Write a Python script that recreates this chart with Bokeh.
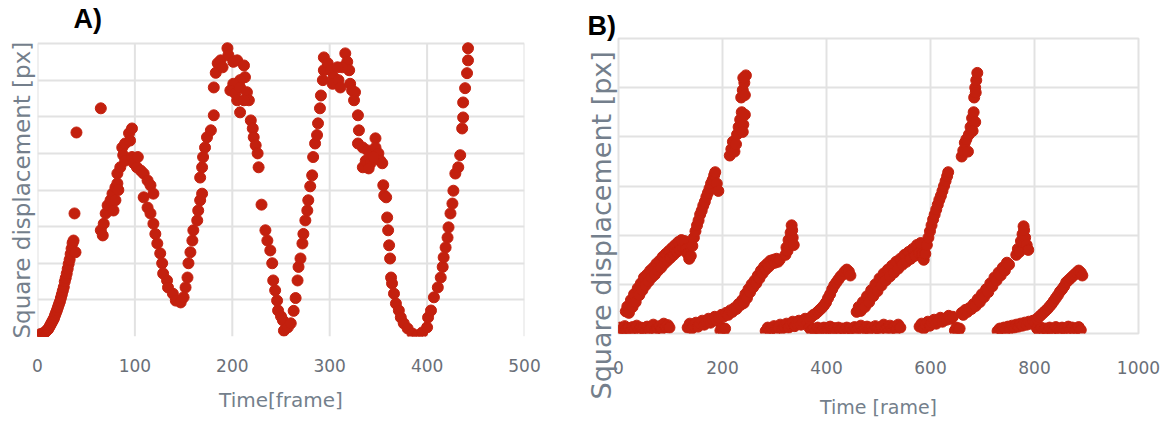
from bokeh.plotting import figure
from bokeh.models import Title, FixedTicker, Label
from bokeh.embed import file_html
from bokeh.resources import INLINE

# ---------------- Panel A data: frame, square displacement (grid units) ----------------
a_frame = [0, 1, 2, 3, 4, 5, 6, 7, 8, 9, 10, 11, 12, 13, 14, 15, 16, 17, 18, 19, 20,
           21, 22, 23, 24, 25, 26, 27, 28, 29, 30, 31, 32, 33, 34, 35, 36, 37, 38, 39, 40,
           65,
           65, 67, 68, 70, 72, 75, 77, 78, 80, 80, 82, 82, 83, 85, 87, 88, 90, 90, 94, 95, 97,
           97, 99, 102, 103, 106, 109, 109, 113, 113, 116, 116, 119, 119, 121, 123, 126, 128,
           129, 133, 134, 139, 142, 147, 150, 152, 154, 155, 157, 159, 160, 164, 165, 167, 169,
           167, 169, 170, 172, 174, 178, 181, 181, 183, 185, 188, 190, 195, 196,
           201, 205, 212, 213, 208, 201, 198, 203, 208, 215, 217, 208, 205, 212,
           219, 221, 222, 224, 226, 227,
           230, 234, 236, 239, 241, 242, 244, 246, 247, 250, 252, 253, 257, 260, 263, 265,
           267, 268, 270, 272, 273, 275, 277, 278, 280, 282, 283, 285, 287, 288, 290, 291,
           293, 294, 294,
           298, 301, 304, 303, 309, 311, 316, 318, 320, 313, 308, 321, 323, 326, 325,
           329, 330, 329, 334, 339, 334, 337, 342, 347, 347, 350, 352, 354, 345, 340,
           355, 356, 358, 359, 360, 361, 362, 363, 364, 366, 368, 371, 373, 376, 380, 385,
           390, 395, 400, 401, 404, 407, 411, 414, 416, 417, 419, 421, 422, 424, 426, 427,
           429, 432, 434, 436, 437, 437, 439, 441, 442, 442]
a_disp = [0.02, 0.05, 0.0, 0.06, 0.03, 0.08, 0.05, 0.1, 0.12, 0.15, 0.18, 0.2, 0.25, 0.3, 0.35, 0.4, 0.45, 0.5, 0.58, 0.65, 0.72,
          0.8, 0.88, 0.95, 1.05, 1.15, 1.25, 1.35, 1.5, 1.6, 1.72, 1.85, 1.98, 2.1, 2.25, 2.4, 2.55, 2.62, 3.36, 2.3, 5.57,
          6.23,
          2.9, 2.76, 3.08, 3.36, 3.58, 3.72, 3.9, 3.44, 3.72, 4.07, 4.18, 4.45, 4.0, 4.62, 5.16, 4.95, 5.27, 4.8, 5.55, 5.35, 5.68,
          4.9, 4.73, 4.62, 4.9, 4.53, 4.45, 3.8, 4.26, 3.52, 4.13, 3.36, 3.9, 3.08, 2.8, 2.54, 2.27, 2.0,
          1.72, 1.53, 1.34, 1.17, 0.98, 0.93, 1.07, 1.34, 1.61, 2.0, 2.3, 2.62, 2.9, 3.17, 3.44, 3.72, 3.9,
          4.34, 4.62, 4.9, 5.16, 5.44, 5.63, 6.04, 6.8, 7.2, 7.46, 7.54, 7.35, 7.87, 7.68,
          7.5, 7.54, 7.4, 7.08, 7.0, 6.9, 6.72, 6.64, 6.8, 6.67, 6.45, 6.12, 6.45, 6.45,
          5.9, 5.68, 5.44, 5.22, 5.0, 4.62,
          3.6, 2.9, 2.62, 2.35, 2.0, 1.53, 1.26, 0.98, 0.71, 0.55, 0.44, 0.16, 0.25, 0.36, 0.7, 1.05,
          1.53, 1.9, 2.13, 2.54, 2.8, 3.17, 3.44, 3.72, 4.1, 4.4, 4.9, 5.27, 5.5, 5.82, 6.23, 6.58,
          7.0, 7.27, 7.62,
          7.46, 7.27, 7.08, 6.9, 7.0, 6.8, 7.73, 7.5, 7.27, 7.35, 7.35, 6.9, 6.72, 6.67, 6.45,
          6.04, 5.63, 5.27, 5.16, 5.08, 4.62, 4.8, 4.73, 5.41, 5.16, 5.0, 4.8, 4.73, 4.9, 4.59,
          4.13, 3.85, 3.8, 3.25, 2.9, 2.49, 2.13, 1.61, 1.45, 1.17, 0.9, 0.71, 0.52, 0.36, 0.22, 0.08,
          0.03, 0.11, 0.25, 0.52, 0.71, 1.07, 1.34, 1.61, 1.9, 2.16, 2.43, 2.7, 2.98, 3.36, 3.63, 3.98,
          4.45, 4.62, 4.95, 5.68, 5.98, 6.39, 6.78, 7.19, 7.54, 7.87]

a_xticks = [0, 100, 200, 300, 400, 500]
a_yticks = [0, 1, 2, 3, 4, 5, 6, 7, 8]

# ---------------- Panel B data (several tracks) ----------------
b_flat1_frame = [0, 3, 6, 9, 12, 15, 19, 23, 27, 31, 35, 39, 43, 47, 51, 55, 59, 63, 67, 71, 75, 79, 83, 87, 91, 95, 98]
b_flat1_disp = [0.06, 0.12, 0.04, 0.1, 0.15, 0.07, 0.11, 0.05, 0.13, 0.09, 0.16, 0.06, 0.12, 0.1, 0.04, 0.14, 0.08, 0.12,
                0.18, 0.07, 0.11, 0.15, 0.09, 0.2, 0.13, 0.17, 0.12]

b_rise1_frame = [14, 17, 20, 24, 27, 30, 33, 37, 40, 43, 46, 49, 52, 55, 58, 61, 64, 67, 70, 73, 76, 79, 82, 85, 88,
                 91, 94, 97, 100, 103, 106, 109, 112, 115, 118, 121, 124, 127, 130, 133, 136, 139, 142, 145, 148,
                 151, 154, 157, 160, 163, 166, 169, 172, 175, 178, 181, 184, 186, 189, 192,
                 214, 217, 220, 223, 226, 228, 231, 234, 237, 240, 243, 239, 236, 239, 242, 245, 243, 240]
b_rise1_disp = [0.45, 0.55, 0.42, 0.68, 0.54, 0.8, 0.64, 0.92, 0.78, 1.02, 0.88, 1.14, 0.98, 1.2, 1.06, 1.28, 1.14, 1.34,
                1.2, 1.42, 1.28, 1.48, 1.34, 1.56, 1.42, 1.62, 1.48, 1.68, 1.54, 1.74, 1.6, 1.8, 1.66, 1.86, 1.7,
                1.9, 1.74, 1.88, 1.72, 1.62, 1.52, 1.58, 1.78, 1.95, 2.08, 2.2, 2.3, 2.42, 2.5, 2.6, 2.68, 2.78,
                2.86, 2.95, 3.05, 3.12, 3.22, 3.28, 3.05, 2.9,
                3.62, 3.75, 3.9, 3.7, 3.85, 4.05, 4.2, 4.35, 4.5, 4.25, 4.45, 4.1, 4.8, 4.95, 5.1, 5.25, 4.85, 5.2]

b_rise2_frame = [133, 137, 141, 145, 149, 153, 157, 161, 165, 169, 173, 177, 181, 185, 189, 193, 196, 199, 202, 205,
                 198, 203, 207, 211, 215, 219, 223, 227, 231, 235, 238, 241, 244, 247, 250, 253, 256, 259, 262,
                 265, 268, 271, 274, 277, 280, 283, 286, 289, 292, 295, 298, 301, 304, 307, 310,
                 321, 323, 325, 327, 329, 331, 333, 335, 337, 334]
b_rise2_disp = [0.12, 0.2, 0.1, 0.16, 0.22, 0.14, 0.2, 0.26, 0.18, 0.24, 0.3, 0.22, 0.28, 0.34, 0.26, 0.32, 0.06, 0.12,
                0.04, 0.1, 0.38, 0.35, 0.42, 0.38, 0.47, 0.44, 0.52, 0.5, 0.6, 0.58, 0.68, 0.62, 0.8, 0.72, 0.9,
                0.84, 1.0, 0.94, 1.08, 1.02, 1.18, 1.12, 1.28, 1.22, 1.36, 1.3, 1.42, 1.36, 1.48, 1.42, 1.5, 1.44,
                1.52, 1.46, 1.5,
                1.6, 1.75, 1.68, 1.9, 1.82, 2.05, 2.2, 1.95, 1.8, 2.1]

b_rise3_frame = [283, 287, 291, 295, 299, 303, 307, 311, 315, 319, 323, 327, 331, 335, 339, 343, 347, 351, 355, 359,
                 363, 367, 371, 375, 379, 383, 387, 391, 395, 399, 403, 407, 411, 415, 419, 423, 427, 431, 435,
                 439, 443,
                 367, 371, 375, 379, 383, 387, 391, 395, 399, 403, 407, 411, 415, 419, 423, 427, 431, 435, 439,
                 443, 446]
b_rise3_disp = [0.05, 0.12, 0.06, 0.1, 0.15, 0.08, 0.12, 0.18, 0.1, 0.15, 0.2, 0.12, 0.18, 0.24, 0.15, 0.2, 0.26, 0.18,
                0.24, 0.3, 0.22, 0.12, 0.06, 0.1, 0.04, 0.12, 0.08, 0.05, 0.12, 0.06, 0.1, 0.14, 0.07, 0.11, 0.05,
                0.12, 0.08, 0.1, 0.06, 0.12, 0.08,
                0.3, 0.34, 0.38, 0.4, 0.44, 0.48, 0.52, 0.57, 0.63, 0.72, 0.8, 0.9, 0.98, 1.04, 1.1, 1.16, 1.2,
                1.26, 1.3, 1.26, 1.18]

b_flat4_frame = [446, 450, 454, 458, 462, 466, 470, 474, 478, 482, 486, 490, 494, 498, 502, 506, 510, 514, 518, 522,
                 526, 530, 534, 538, 542]
b_flat4_disp = [0.1, 0.05, 0.13, 0.08, 0.12, 0.16, 0.06, 0.1, 0.14, 0.08, 0.12, 0.05, 0.15, 0.1, 0.07, 0.13, 0.18, 0.09,
                0.12, 0.16, 0.1, 0.14, 0.08, 0.18, 0.12]

b_rise4_frame = [458, 462, 466, 470, 474, 478, 482, 486, 490, 494, 498, 502, 506, 510, 514, 518, 522, 526, 530, 534,
                 538, 542, 546, 550, 554, 558, 562, 566, 570, 574, 578, 581, 584, 587, 590, 593, 596, 599, 602,
                 605, 608, 611, 614, 617, 620, 623, 626, 629, 632, 634,
                 660, 663, 666, 669, 672, 674, 677, 680, 683, 686, 681, 684, 686, 688, 690, 687]
b_rise4_disp = [0.44, 0.54, 0.46, 0.64, 0.54, 0.76, 0.64, 0.88, 0.76, 1.0, 0.86, 1.12, 0.98, 1.22, 1.08, 1.3, 1.16, 1.38,
                1.24, 1.46, 1.32, 1.52, 1.4, 1.6, 1.46, 1.66, 1.52, 1.72, 1.58, 1.8, 1.64, 1.84, 1.62, 1.5, 1.62,
                1.8, 1.95, 2.08, 2.2, 2.32, 2.42, 2.52, 2.62, 2.72, 2.8, 2.9, 3.0, 3.1, 3.2, 3.28,
                3.6, 3.72, 3.88, 3.95, 3.7, 4.05, 4.2, 4.38, 4.5, 4.3, 4.12, 4.8, 5.0, 5.15, 5.3, 4.9]

b_rise5_frame = [579, 583, 587, 591, 595, 599, 603, 607, 611, 615, 619, 623, 627, 631, 635, 639, 643, 647, 650, 653,
                 656, 660, 663, 667, 671, 675, 679, 683, 687, 691, 695, 699, 703, 707, 711, 715, 719, 723, 727,
                 731, 735, 739, 743, 747, 751,
                 765, 768, 771, 774, 777, 779, 782, 785, 788, 780]
b_rise5_disp = [0.14, 0.2, 0.1, 0.18, 0.24, 0.16, 0.22, 0.28, 0.2, 0.26, 0.32, 0.24, 0.3, 0.28, 0.36, 0.3, 0.34, 0.06,
                0.12, 0.04, 0.1, 0.42, 0.38, 0.48, 0.44, 0.52, 0.5, 0.6, 0.56, 0.7, 0.64, 0.8, 0.74, 0.9, 0.84,
                1.02, 0.96, 1.14, 1.08, 1.24, 1.18, 1.34, 1.28, 1.44, 1.4,
                1.6, 1.72, 1.66, 1.88, 2.02, 2.18, 1.95, 1.8, 1.7, 2.1]

b_rise6_frame = [729, 733, 737, 741, 745, 749, 753, 757, 761, 765, 769, 773, 777, 781, 785, 789, 793, 797, 801, 805,
                 809, 813, 817, 821, 825, 829, 833, 837, 841, 845, 849, 853, 857, 861, 865, 869, 873, 877, 881,
                 885, 889,
                 805, 809, 813, 817, 821, 825, 829, 833, 837, 841, 845, 849, 853, 857, 861, 865, 869, 873, 877,
                 881, 885, 889, 892]
b_rise6_disp = [0.05, 0.1, 0.06, 0.12, 0.08, 0.14, 0.1, 0.16, 0.12, 0.18, 0.14, 0.2, 0.16, 0.22, 0.18, 0.24, 0.2, 0.26,
                0.22, 0.1, 0.05, 0.12, 0.07, 0.1, 0.04, 0.12, 0.08, 0.06, 0.13, 0.09, 0.05, 0.12, 0.1, 0.06, 0.14,
                0.08, 0.12, 0.05, 0.1, 0.13, 0.07,
                0.3, 0.34, 0.38, 0.42, 0.46, 0.5, 0.55, 0.6, 0.66, 0.72, 0.78, 0.85, 0.9, 0.96, 1.04, 1.08, 1.12,
                1.16, 1.2, 1.24, 1.28, 1.24, 1.18]

b_xticks = [0, 200, 400, 600, 800, 1000]
b_yticks = [0, 1, 2, 3, 4, 5, 6]

RED = "#c3200e"
GRID = "#e2e2e2"
TICK_COL = "#6a6f78"
LABEL_COL = "#747f8c"
FONT = "DejaVu Sans"


def style_x(p, xticks, tick_standoff, label_standoff, tick_size, label_size):
    p.xaxis.ticker = FixedTicker(ticks=xticks)
    p.yaxis.visible = False
    p.xaxis.axis_line_color = None
    p.xaxis.major_tick_line_color = None
    p.xaxis.minor_tick_line_color = None
    p.xaxis.major_tick_out = 0
    p.xaxis.major_label_standoff = tick_standoff
    p.xaxis.major_label_text_font = FONT
    p.xaxis.major_label_text_font_size = tick_size
    p.xaxis.major_label_text_color = TICK_COL
    p.xaxis.axis_label_standoff = label_standoff
    p.xaxis.axis_label_text_font = FONT
    p.xaxis.axis_label_text_font_size = label_size
    p.xaxis.axis_label_text_font_style = "normal"
    p.xaxis.axis_label_text_color = LABEL_COL
    p.background_fill_color = "white"
    p.border_fill_color = "white"


# ---------------- Figure A ----------------
# the frame reaches up to the page top so that the "A)" tag can sit above the top grid line
A_TOP_PX, A_PLOT_PX = 43, 293
pA = figure(width=560, height=420, x_range=(0, 500), y_range=(0, 8 + 8 * A_TOP_PX / A_PLOT_PX), title=None,
            output_backend="svg", toolbar_location=None,
            min_border_left=37, min_border_right=36, min_border_top=0, min_border_bottom=84)
style_x(pA, a_xticks, 22, 13, "17px", "20px")
pA.outline_line_color = None
pA.xgrid.visible = False
pA.ygrid.ticker = FixedTicker(ticks=a_yticks)
pA.ygrid.grid_line_color = GRID
pA.ygrid.grid_line_width = 2
pA.segment(x0=a_xticks, y0=[a_yticks[0]] * len(a_xticks), x1=a_xticks, y1=[a_yticks[-1]] * len(a_xticks),
           line_color=GRID, line_width=2)
pA.xaxis.axis_label = "Time[frame]"
pA.scatter(a_frame, a_disp, size=11, color=RED)
pA.add_layout(Label(x=37, y=9.08, text="A)",
                    text_font="Liberation Sans", text_font_style="bold", text_font_size="27px",
                    text_color="black", text_align="left", text_baseline="top"))
pA.add_layout(Title(text="Square displacement [px]", align="left", offset=-2, text_font=FONT, text_font_size="23px",
                    text_font_style="normal", text_color=LABEL_COL, standoff=5), "left")

# ---------------- Figure B ----------------
pB = figure(width=600, height=420, x_range=(0, 1000), y_range=(0, 6), title="B)",
            output_backend="svg", toolbar_location=None,
            min_border_left=58, min_border_right=22, min_border_top=38, min_border_bottom=86)
style_x(pB, b_xticks, 27, 19, "17px", "19px")
pB.xgrid.ticker = FixedTicker(ticks=b_xticks)
pB.ygrid.ticker = FixedTicker(ticks=b_yticks)
pB.xgrid.grid_line_color = GRID
pB.ygrid.grid_line_color = GRID
pB.xgrid.grid_line_width = 2
pB.ygrid.grid_line_width = 2
pB.outline_line_color = GRID
pB.outline_line_width = 2
pB.title.align = "left"
pB.title.offset = -31
pB.title.standoff = -4
pB.title.text_font = "Liberation Sans"
pB.title.text_font_style = "bold"
pB.title.text_font_size = "27px"
pB.title.text_color = "black"
pB.xaxis.axis_label = "Time [rame]"
for fx, fy in [(b_flat1_frame, b_flat1_disp), (b_rise1_frame, b_rise1_disp), (b_rise2_frame, b_rise2_disp),
               (b_rise3_frame, b_rise3_disp), (b_flat4_frame, b_flat4_disp), (b_rise4_frame, b_rise4_disp),
               (b_rise5_frame, b_rise5_disp), (b_rise6_frame, b_rise6_disp)]:
    pB.scatter(fx, fy, size=11, color=RED)
pB.add_layout(Title(text="Square displacement [px]", align="left", offset=-66, text_font=FONT,
                    text_font_size="27px", text_font_style="normal", text_color=LABEL_COL, standoff=3), "left")

# two independent roots placed side by side, so each panel keeps its own frame position
SIDE_BY_SIDE = ('{% block contents %}<div style="display: flex; flex-direction: row; align-items: flex-start;">'
                '{{ super() }}</div>{% endblock %}')
open("out.html", "w").write(file_html([pA, pB], INLINE, template=SIDE_BY_SIDE))
